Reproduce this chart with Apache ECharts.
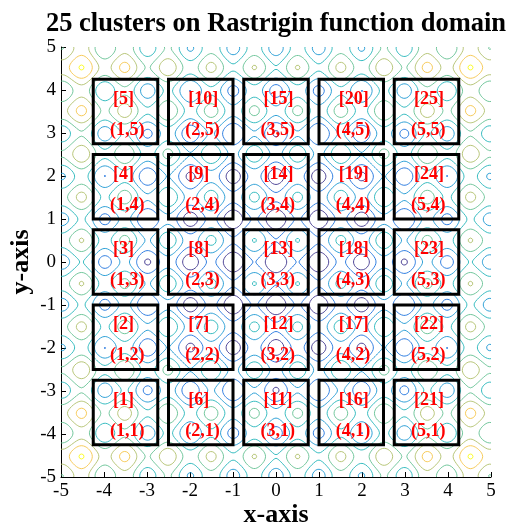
<!DOCTYPE html>
<html><head><meta charset="utf-8">
<script src="https://cdn.jsdelivr.net/npm/echarts@6/dist/echarts.min.js"></script>
<style>html,body{margin:0;padding:0;background:#fff}#c{width:511px;height:524px}</style>
</head><body><div id="c"></div>
<script>
// ---- data ----
const titleText = '25 clusters on Rastrigin function domain';
const xAxisName = 'x-axis';
const yAxisName = 'y-axis';
const domainMin = -5, domainMax = 5;
const contourLevels = [10, 20, 30, 40, 50, 60, 70, 80];
const clusterColumnCenters = [-3.5, -1.75, 0, 1.75, 3.5];   // i = 1..5
const clusterRowCenters = [-3.5, -1.75, 0, 1.75, 3.5];      // j = 1..5
const clusterHalfWidth = 0.75;

// ---- styles ----
const levelColors = ['#352a87', '#0f6adc', '#0e92d0', '#17b1b6', '#5bbd8c', '#acbc63', '#f5c23f', '#f9fb0e'];
const serif = '"Liberation Serif", "Times New Roman", serif';

// Rastrigin function (the surface the chart depicts)
function rastrigin(x, y) {
  return 20 + x * x - 10 * Math.cos(2 * Math.PI * x) + y * y - 10 * Math.cos(2 * Math.PI * y);
}

// grid of function values
const N = 250;
const h = (domainMax - domainMin) / N;
const Z = new Float64Array((N + 1) * (N + 1));
for (let j = 0; j <= N; j++) for (let i = 0; i <= N; i++)
  Z[j * (N + 1) + i] = rastrigin(domainMin + i * h, domainMin + j * h);

// marching squares
function contourSegments(L) {
  const segs = [];
  const interp = (xa, ya, za, xb, yb, zb) => {
    const t = (L - za) / (zb - za);
    return [xa + t * (xb - xa), ya + t * (yb - ya)];
  };
  for (let j = 0; j < N; j++) {
    for (let i = 0; i < N; i++) {
      const x0 = domainMin + i * h, x1 = x0 + h, y0 = domainMin + j * h, y1 = y0 + h;
      const z0 = Z[j * (N + 1) + i], z1 = Z[j * (N + 1) + i + 1];
      const z2 = Z[(j + 1) * (N + 1) + i + 1], z3 = Z[(j + 1) * (N + 1) + i];
      const b0 = z0 < L, b1 = z1 < L, b2 = z2 < L, b3 = z3 < L;
      if (b0 === b1 && b1 === b2 && b2 === b3) continue;
      const e = [null, null, null, null];
      if (b0 !== b1) e[0] = interp(x0, y0, z0, x1, y0, z1);
      if (b1 !== b2) e[1] = interp(x1, y0, z1, x1, y1, z2);
      if (b2 !== b3) e[2] = interp(x1, y1, z2, x0, y1, z3);
      if (b3 !== b0) e[3] = interp(x0, y1, z3, x0, y0, z0);
      const pts = e.filter(p => p);
      if (pts.length === 2) {
        segs.push({ coords: [pts[0], pts[1]] });
      } else if (pts.length === 4) {
        const c = (z0 + z1 + z2 + z3) / 4 < L;
        if (c === b0) { segs.push({ coords: [e[0], e[1]] }); segs.push({ coords: [e[2], e[3]] }); }
        else { segs.push({ coords: [e[3], e[0]] }); segs.push({ coords: [e[1], e[2]] }); }
      }
    }
  }
  return segs;
}

const series = contourLevels.map((L, k) => ({
  type: 'lines', coordinateSystem: 'cartesian2d', polyline: false,
  large: true, largeThreshold: 50, silent: true, z: 1,
  lineStyle: { color: levelColors[k], width: 1, opacity: 0.85 },
  data: contourSegments(L)
}));

// clusters
const clusters = [];
clusterColumnCenters.forEach((cx, ci) => {
  clusterRowCenters.forEach((cy, rj) => {
    const n = ci * clusterRowCenters.length + rj + 1;
    clusters.push([cx, cy, '[' + n + ']', '(' + (ci + 1) + ',' + (rj + 1) + ')']);
  });
});

series.push({
  type: 'custom', coordinateSystem: 'cartesian2d', z: 5, silent: true,
  data: clusters,
  renderItem(params, api) {
    const cx = api.value(0), cy = api.value(1);
    const d = clusters[params.dataIndex];
    const p1 = api.coord([cx - clusterHalfWidth, cy + clusterHalfWidth]);
    const p2 = api.coord([cx + clusterHalfWidth, cy - clusterHalfWidth]);
    const t1 = api.coord([cx - 0.29, cy + 0.29]);
    const t2 = api.coord([cx - 0.36, cy - 0.43]);
    const font = 'bold 18px ' + serif;
    return {
      type: 'group', children: [
        { type: 'rect', shape: { x: p1[0], y: p1[1], width: p2[0] - p1[0], height: p2[1] - p1[1] },
          style: { fill: 'none', stroke: '#000', lineWidth: 3 } },
        { type: 'text', x: t1[0], y: t1[1], style: { text: d[2], fill: '#ff0000', font, align: 'left', verticalAlign: 'middle' } },
        { type: 'text', x: t2[0], y: t2[1], style: { text: d[3], fill: '#ff0000', font, align: 'left', verticalAlign: 'middle' } }
      ]
    };
  }
});

const axisCommon = {
  type: 'value', min: domainMin, max: domainMax, interval: 1,
  axisLine: { show: true, onZero: false, lineStyle: { color: '#000', width: 1 } },
  axisTick: { show: true, inside: true, length: 5, lineStyle: { color: '#000', width: 1 } },
  axisLabel: { color: '#000', fontSize: 19, fontFamily: serif, margin: 5, showMinLabel: true, showMaxLabel: true },
  splitLine: { show: false },
  nameLocation: 'middle',
  nameMoveOverlap: false,
  nameTextStyle: { fontSize: 26, fontWeight: 'bold', fontFamily: serif, color: '#000' }
};

const chart = echarts.init(document.getElementById('c'), null, { renderer: 'canvas' });
chart.setOption({
  animation: false,
  backgroundColor: '#fff',
  title: {
    text: titleText, left: 276, top: 11, padding: 0, textAlign: 'center',
    textStyle: { fontSize: 26.5, fontWeight: 'bold', fontFamily: serif, color: '#000' }
  },
  grid: { left: 61, top: 47, right: 20, bottom: 47, containLabel: false, outerBoundsMode: 'none' },
  xAxis: Object.assign({}, axisCommon, { name: xAxisName, nameGap: 25 }),
  yAxis: Object.assign({}, axisCommon, { name: yAxisName, nameGap: 27 }),
  series
});
</script></body></html>
